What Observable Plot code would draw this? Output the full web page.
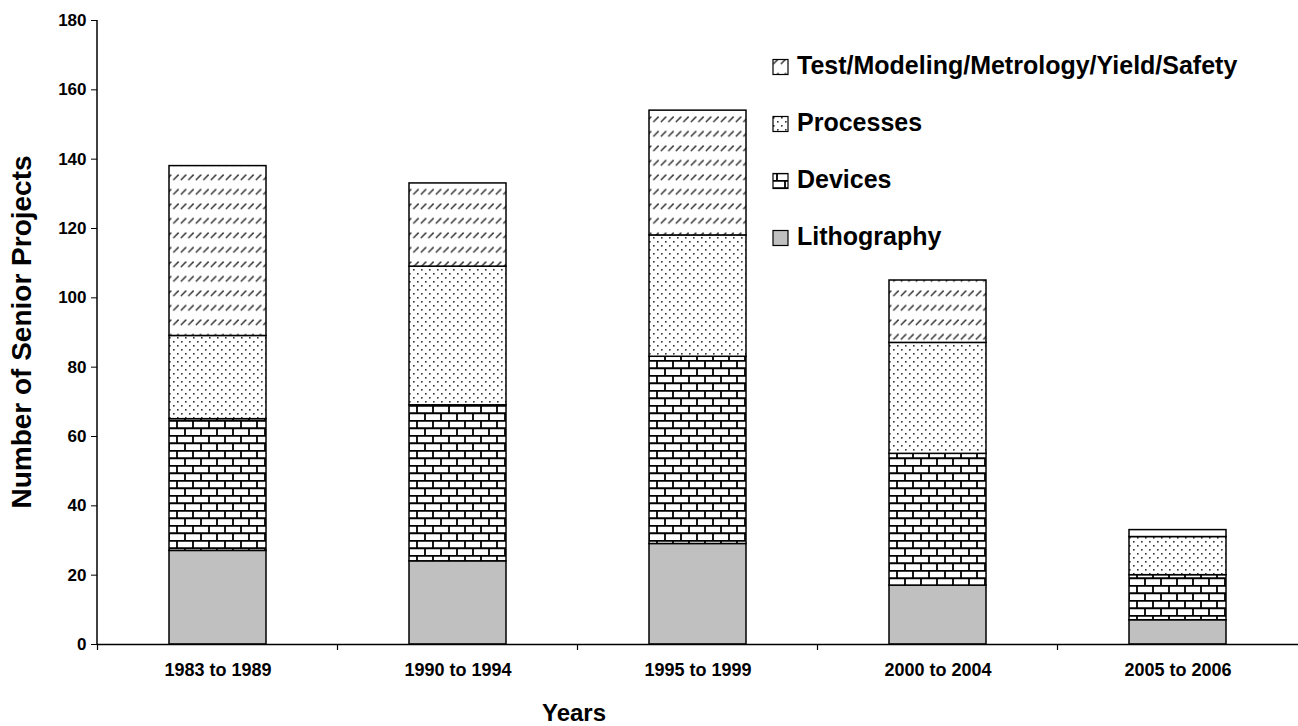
<!DOCTYPE html>
<html><head><meta charset="utf-8">
<script src="https://cdn.jsdelivr.net/npm/d3@7"></script>
<script src="https://cdn.jsdelivr.net/npm/@observablehq/plot@0.6"></script>
<style>body{margin:0;background:#fff;} #chart{width:1298px;height:726px;}</style>
</head><body><div id="chart"></div>
<script>
const periods = ["1983 to 1989", "1990 to 1994", "1995 to 1999", "2000 to 2004", "2005 to 2006"];
const series = ["Lithography", "Devices", "Processes", "Test/Modeling/Metrology/Yield/Safety"];
const lithography = [27, 24, 29, 17, 7];
const devices = [38, 45, 54, 38, 13];
const processes = [24, 40, 35, 32, 11];
const testModeling = [49, 24, 36, 18, 2];
const yTicks = [0, 20, 40, 60, 80, 100, 120, 140, 160, 180];
const legendOrder = ["Test/Modeling/Metrology/Yield/Safety", "Processes", "Devices", "Lithography"];
const fills = ["#c0c0c0", "url(#brick)", "url(#dots)", "url(#diag)"];

const seriesValues = [lithography, devices, processes, testModeling];
const data = [];
series.forEach((s, i) => periods.forEach((p, j) => data.push({period: p, series: s, value: seriesValues[i][j]})));

const W = 1298, H = 726, mL = 97, mR = 0, mT = 20, mB = 82;
const font = "'Liberation Sans', Arial, sans-serif";

const chart = Plot.plot({
  width: W, height: H,
  marginLeft: mL, marginRight: mR, marginTop: mT, marginBottom: mB,
  style: {fontFamily: font, fontWeight: "bold", color: "#000", background: "#fff"},
  x: {domain: periods, paddingInner: 0.595, paddingOuter: 0.2975, label: null},
  y: {domain: [0, 180], label: null},
  color: {domain: series, range: fills},
  marks: [
    Plot.barY(data, {x: "period", y: "value", fill: "series", stroke: "#000", strokeWidth: 1.5}),
    Plot.axisY({ticks: yTicks, tickSize: 6, tickPadding: 5, fontSize: 17, fontWeight: "bold", label: null, stroke: "#000"}),
    Plot.axisX({tickSize: 0, tickPadding: 19, fontSize: 18, fontWeight: "bold", label: null}),
    Plot.ruleY([0], {stroke: "#000", strokeWidth: 1.5})
  ]
});
document.getElementById("chart").appendChild(chart);

const svg = d3.select(chart);
const defs = svg.insert("defs", ":first-child");
// brick pattern
const brick = defs.append("pattern").attr("id", "brick").attr("patternUnits", "userSpaceOnUse")
  .attr("width", 16).attr("height", 15);
brick.append("rect").attr("width", 16).attr("height", 15).attr("fill", "#fff");
brick.append("path").attr("d", "M0,0.75H16M0,8.25H16M1,0V7.5M9,7.5V15")
  .attr("stroke", "#000").attr("stroke-width", 1.8).attr("fill", "none");
// dots pattern
const dots = defs.append("pattern").attr("id", "dots").attr("patternUnits", "userSpaceOnUse")
  .attr("width", 8).attr("height", 8);
dots.append("rect").attr("width", 8).attr("height", 8).attr("fill", "#fff");
dots.append("rect").attr("x", 1).attr("y", 1).attr("width", 1.6).attr("height", 1.6).attr("fill", "#333");
dots.append("rect").attr("x", 5).attr("y", 5).attr("width", 1.6).attr("height", 1.6).attr("fill", "#333");
// diagonal dashes pattern
const diag = defs.append("pattern").attr("id", "diag").attr("patternUnits", "userSpaceOnUse")
  .attr("width", 7.5).attr("height", 14.5);
diag.append("rect").attr("width", 7.5).attr("height", 14.5).attr("fill", "#fff");
diag.append("path").attr("d", "M0.8,6L6.2,0.6").attr("stroke", "#333").attr("stroke-width", 1.4);

// y axis line
const yS = chart.scale("y");
svg.append("line").attr("x1", mL).attr("x2", mL).attr("y1", yS.apply(180)).attr("y2", yS.apply(0))
  .attr("stroke", "#000").attr("stroke-width", 1.5);
// x boundary ticks
const xS = chart.scale("x");
const step = xS.step;
const y0 = yS.apply(0);
periods.forEach((p) => {
  const bx = xS.apply(p) - (step - xS.bandwidth) / 2;
  svg.append("line").attr("x1", bx).attr("x2", bx).attr("y1", y0).attr("y2", y0 + 6).attr("stroke", "#000").attr("stroke-width", 1.2);
});

// axis titles
svg.append("text").attr("x", 574).attr("y", 715).attr("text-anchor", "middle").attr("dominant-baseline", "middle")
  .attr("font-family", font).attr("font-weight", "bold").attr("font-size", 24).text("Years");
svg.append("text").attr("transform", `translate(24,${(mT + y0) / 2}) rotate(-90)`).attr("text-anchor", "middle")
  .attr("dominant-baseline", "middle").attr("font-family", font).attr("font-weight", "bold").attr("font-size", 28)
  .text("Number of Senior Projects");

// legend
const lg = svg.append("g");
legendOrder.forEach((s, i) => {
  const cy = 67 + i * 57;
  const f = fills[series.indexOf(s)];
  lg.append("rect").attr("x", 773).attr("y", cy - 7.5).attr("width", 15).attr("height", 15)
    .attr("fill", f).attr("stroke", "#000").attr("stroke-width", 1.2);
  lg.append("text").attr("x", 797).attr("y", cy).attr("text-anchor", "start").attr("dominant-baseline", "middle")
    .attr("font-family", font).attr("font-weight", "bold").attr("font-size", 25).text(s);
});
</script></body></html>
